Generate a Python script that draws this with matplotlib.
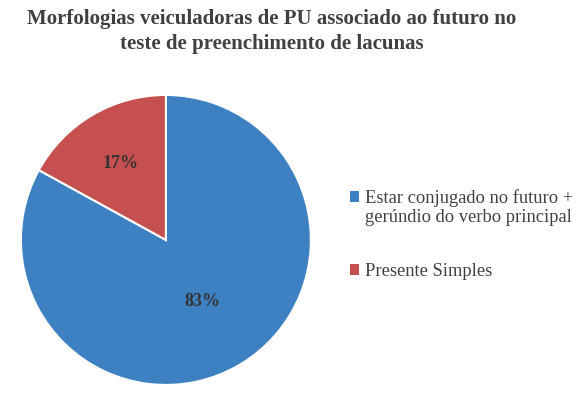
import matplotlib
matplotlib.use("Agg")
import matplotlib.pyplot as plt
import numpy as np

categories = ["Estar conjugado no futuro +\ngerúndio do verbo principal", "Presente Simples"]
values = [83, 17]
colors = ["#3E81C3", "#C65050"]
title = "Morfologias veiculadoras de PU associado ao futuro no\nteste de preenchimento de lacunas"

plt.rcParams['font.family'] = ['Liberation Serif', 'DejaVu Serif']

fig = plt.figure(figsize=(5.8, 3.94), dpi=100)
fig.patch.set_facecolor("white")
ax = fig.add_axes([0.036, 0.023, 0.5, 0.736])
wedges, texts, autotexts = ax.pie(values, colors=colors, startangle=90, counterclock=False,
                                  autopct=lambda p: f"{p:.0f}%", pctdistance=0.5,
                                  wedgeprops=dict(edgecolor="white", linewidth=1.5),
                                  textprops=dict(fontsize=13, fontweight="bold", color="#333333"))
dists = [0.49, 0.61]
for w, t, d in zip(wedges, autotexts, dists):
    ang = np.deg2rad((w.theta1 + w.theta2) / 2)
    t.set_position((d * np.cos(ang), d * np.sin(ang)))
ax.set_aspect("equal")
ax.set_xlim(-1.0, 1.0)
ax.set_ylim(-1.0, 1.0)

fig.text(0.469, 0.92, title, ha="center", va="center", fontsize=15, fontweight="bold",
         color="#404040", linespacing=1.3)

leg = fig.legend(wedges, categories, loc="center left", bbox_to_anchor=(0.603, 0.405),
                 frameon=False, fontsize=13.3, handlelength=0.5, handleheight=0.5,
                 handletextpad=0.35, labelspacing=2.0, labelcolor="#404040",
                 borderaxespad=0, borderpad=0)
for i, h in enumerate(leg.legend_handles):
    h.set_edgecolor("none")
    if i == 0:
        h.set_y(h.get_y() + 8)

fig.savefig("out.png", dpi=100)
